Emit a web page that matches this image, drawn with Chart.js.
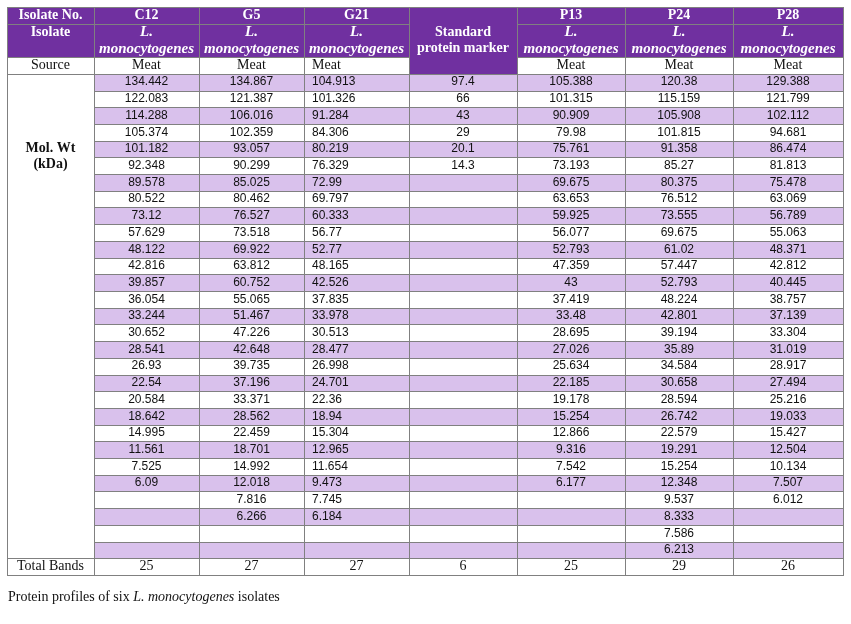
<!DOCTYPE html>
<html>
<head>
<meta charset="utf-8">
<style>
  body { margin: 0; background: #fff; }
  .wrap { position: relative; width: 851px; height: 624px; }
</style>
</head>
<body>
<div class="wrap">
    <canvas id="profileTable"></canvas>
</div>

<script src="https://cdn.jsdelivr.net/npm/chart.js"></script>
<script>
// Table content
const isolateNos = ['C12', 'G5', 'G21', 'P13', 'P24', 'P28'];
const sources = ['Meat', 'Meat', 'Meat', 'Meat', 'Meat', 'Meat'];
const markerBands = [97.4, 66, 43, 29, 20.1, 14.3];

const c12 = [134.442, 122.083, 114.288, 105.374, 101.182, 92.348, 89.578, 80.522, 73.12, 57.629,
    48.122, 42.816, 39.857, 36.054, 33.244, 30.652, 28.541, 26.93, 22.54, 20.584,
    18.642, 14.995, 11.561, 7.525, 6.09];
const g5 = [134.867, 121.387, 106.016, 102.359, 93.057, 90.299, 85.025, 80.462, 76.527, 73.518,
    69.922, 63.812, 60.752, 55.065, 51.467, 47.226, 42.648, 39.735, 37.196, 33.371,
    28.562, 22.459, 18.701, 14.992, 12.018, 7.816, 6.266];
const g21 = [104.913, 101.326, 91.284, 84.306, 80.219, 76.329, 72.99, 69.797, 60.333, 56.77,
    52.77, 48.165, 42.526, 37.835, 33.978, 30.513, 28.477, 26.998, 24.701, 22.36,
    18.94, 15.304, 12.965, 11.654, 9.473, 7.745, 6.184];
const p13 = [105.388, 101.315, 90.909, 79.98, 75.761, 73.193, 69.675, 63.653, 59.925, 56.077,
    52.793, 47.359, 43, 37.419, 33.48, 28.695, 27.026, 25.634, 22.185, 19.178,
    15.254, 12.866, 9.316, 7.542, 6.177];
const p24 = [120.38, 115.159, 105.908, 101.815, 91.358, 85.27, 80.375, 76.512, 73.555, 69.675,
    61.02, 57.447, 52.793, 48.224, 42.801, 39.194, 35.89, 34.584, 30.658, 28.594,
    26.742, 22.579, 19.291, 15.254, 12.348, 9.537, 8.333, 7.586, 6.213];
const p28 = [129.388, 121.799, 102.112, 94.681, 86.474, 81.813, 75.478, 63.069, 56.789, 55.063,
    48.371, 42.812, 40.445, 38.757, 37.139, 33.304, 31.019, 28.917, 27.494, 25.216,
    19.033, 15.427, 12.504, 10.134, 7.507, 6.012];
const totalBands = [25, 27, 27, 6, 25, 29, 26];

const DATA_ROWS = 29;

// layout (x in column units, y in row units)
const colWidths = [87, 105, 105, 105, 108, 108, 108, 110];
const colEdges = colWidths.reduce((a, w) => { a.push(a[a.length - 1] + w); return a; }, [0]);
const totalRows = 4 + DATA_ROWS + 1;

const DARK = '#7030a0';
const LIGHT = '#d9c1ec';
const GRID = '#808080';
const SERIF = '"Liberation Serif", "Times New Roman", serif';
const SANS = '"Liberation Sans", Arial, sans-serif';

// column order on the page: label, C12, G5, G21, marker, P13, P24, P28
const valueCols = [c12, g5, g21, markerBands, p13, p24, p28];
const headerCols = ['C12', 'G5', 'G21', null, 'P13', 'P24', 'P28'];
const sourceCols = [sources[0], sources[1], sources[2], null, sources[3], sources[4], sources[5]];
const leftAligned = [false, false, true, false, false, false, false];

const tablePlugin = {
    id: 'tablePlugin',
    afterDraw(chart) {
        const ctx = chart.ctx;
        const xs = chart.scales.x;
        const ys = chart.scales.y;
        const px = v => xs.getPixelForValue(v);
        const py = v => ys.getPixelForValue(v);

        function cell(c0, c1, r0, r1, fill) {
            const x0 = Math.round(px(colEdges[c0])), x1 = Math.round(px(colEdges[c1]));
            const y0 = Math.round(py(r0)), y1 = Math.round(py(r1));
            ctx.fillStyle = fill;
            ctx.fillRect(x0, y0, x1 - x0, y1 - y0);
            return [x0, y0, x1, y1];
        }
        const boxes = [];
        function box(c0, c1, r0, r1, fill) {
            boxes.push(cell(c0, c1, r0, r1, fill));
        }
        function text(str, col, row, font, color, align) {
            ctx.font = font;
            ctx.fillStyle = color;
            ctx.textBaseline = 'middle';
            let x;
            if (align === 'left') {
                ctx.textAlign = 'left';
                x = px(colEdges[col]) + 8;
            } else {
                ctx.textAlign = 'center';
                x = (px(colEdges[col]) + px(colEdges[col + 1])) / 2;
            }
            ctx.fillText(str, x, py(row));
        }

        ctx.save();

        // header rows
        for (let c = 0; c < 8; c++) {
            if (c === 4) {
                box(4, 5, 0, 4, DARK);
                continue;
            }
            box(c, c + 1, 0, 1, DARK);
            box(c, c + 1, 1, 3, DARK);
            box(c, c + 1, 3, 4, '#ffffff');
        }
        // mol. wt merged cell
        box(0, 1, 4, 4 + DATA_ROWS, '#ffffff');
        // data cells
        for (let r = 0; r < DATA_ROWS; r++) {
            for (let c = 1; c < 8; c++) {
                box(c, c + 1, 4 + r, 5 + r, r % 2 === 0 ? LIGHT : '#ffffff');
            }
        }
        // total row
        for (let c = 0; c < 8; c++) {
            box(c, c + 1, 4 + DATA_ROWS, 5 + DATA_ROWS, '#ffffff');
        }

        // grid lines
        ctx.strokeStyle = GRID;
        ctx.lineWidth = 1;
        boxes.forEach(b => {
            ctx.strokeRect(b[0] + 0.5, b[1] + 0.5, b[2] - b[0], b[3] - b[1]);
        });

        const hBold = 'bold 14px ' + SERIF;
        const hItal = 'italic bold 15px ' + SERIF;
        const body = '14px ' + SERIF;
        const num = '12px ' + SANS;

        text('Isolate No.', 0, 0.5, hBold, '#fff');
        text('Isolate', 0, 1.5, hBold, '#fff');
        text('Source', 0, 3.5, body, '#111');
        text('Mol. Wt', 0, 8.45, hBold, '#111');
        text('(kDa)', 0, 9.4, hBold, '#111');
        text('Total Bands', 0, 4.5 + DATA_ROWS, body, '#111');

        text('Standard', 4, 1.5, hBold, '#fff');
        text('protein marker', 4, 2.5, hBold, '#fff');

        for (let i = 0; i < 7; i++) {
            const col = i + 1;
            const align = leftAligned[i] ? 'left' : 'center';
            if (headerCols[i]) {
                text(headerCols[i], col, 0.5, hBold, '#fff');
                text('L.', col, 1.5, hItal, '#fff');
                text('monocytogenes', col, 2.5, hItal, '#fff');
                text(sourceCols[i], col, 3.5, body, '#111', align);
            }
            valueCols[i].forEach((v, r) => {
                text(String(v), col, 4.5 + r, num, '#111', align);
            });
            text(String(totalBands[i]), col, 4.5 + DATA_ROWS, body, '#111');
        }

        // caption
        const capY = py(totalRows) + 22;
        let cx = px(0) + 1;
        ctx.textAlign = 'left';
        ctx.textBaseline = 'middle';
        ctx.fillStyle = '#111';
        [['Protein profiles of six ', body], ['L. monocytogenes', 'italic 14px ' + SERIF], [' isolates', body]]
            .forEach(([s, f]) => {
                ctx.font = f;
                ctx.fillText(s, cx, capY);
                cx += ctx.measureText(s).width;
            });

        ctx.restore();
    }
};

const ctx = document.getElementById('profileTable').getContext('2d');
const chart = new Chart(ctx, {
    type: 'scatter',
    data: { datasets: [{ data: [] }] },
    options: {
        responsive: true,
        maintainAspectRatio: false,
        animation: false,
        events: [],
        layout: { padding: { left: 7, right: 8, top: 7, bottom: 49 } },
        plugins: { legend: { display: false }, tooltip: { enabled: false } },
        scales: {
            x: { type: 'linear', min: 0, max: colEdges[colEdges.length - 1], display: false },
            y: { type: 'linear', min: 0, max: totalRows, reverse: true, display: false }
        }
    },
    plugins: [tablePlugin]
});
</script>
</body>
</html>
